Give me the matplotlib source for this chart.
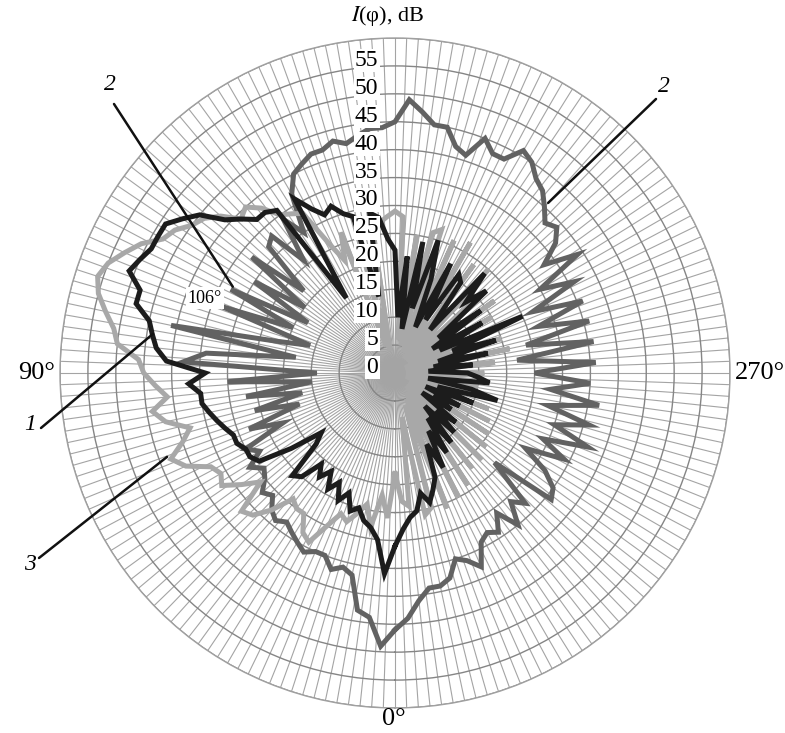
import numpy as np
import matplotlib
matplotlib.use("Agg")
import matplotlib.pyplot as plt
from matplotlib.transforms import offset_copy

plt.rcParams['font.family'] = ['Liberation Serif', 'DejaVu Serif']
plt.rcParams['mathtext.fontset'] = 'stix'

# angles (degrees, 0 at bottom, clockwise)
angles = [0, 3, 6, 9, 12, 15, 18, 21, 24, 27, 30, 33, 36, 39, 42, 45, 48, 51, 54, 57,
          60, 63, 66, 69, 72, 75, 78, 81, 84, 87, 90, 93, 96, 99, 102, 105, 108, 111, 114, 117,
          120, 123, 126, 129, 132, 135, 138, 141, 144, 147, 150, 153, 156, 159, 162, 165, 168, 171, 174, 177,
          180, 183, 186, 189, 192, 195, 198, 201, 204, 207, 210, 213, 216, 219, 222, 225, 228, 231, 234, 237,
          240, 243, 246, 249, 252, 255, 258, 261, 264, 267, 270, 273, 276, 279, 282, 285, 288, 291, 294, 297,
          300, 303, 306, 309, 312, 315, 318, 321, 324, 327, 330, 333, 336, 339, 342, 345, 348, 351, 354, 357]

# curve 1 (black)
curve1 = [31, 36, 30, 28, 27, 25, 26, 23, 25, 22, 24, 21, 23, 21, 25, 26, 19, 17, 23, 29,
          30, 30, 31, 31, 32, 33, 34, 35, 35, 37, 34, 41, 43, 44, 45, 48, 48, 51, 50, 49,
          49, 49, 47, 45, 41, 39, 37, 37, 36, 16, 36, 33, 31, 32, 30, 29, 14, 29, 28, 24,
          22, 10, 21, 8, 24, 12, 25, 18, 9, 22, 11, 21, 20, 10, 24, 18, 22, 10, 19, 8,
          18, 9, 25, 11, 19, 8, 17, 7, 14, 6, 13, 15, 17, 6, 14, 19, 8, 15, 6, 13,
          8, 12, 6, 14, 10, 15, 8, 16, 10, 17, 12, 19, 14, 20, 22, 24, 22, 25, 26, 28]

# curve 2 (dark grey)
curve2 = [46, 49, 44, 43, 37, 36, 37, 35, 35, 36, 35, 34, 33, 34, 33, 31, 32, 30, 29, 31,
          28, 30, 22, 28, 18, 26, 17, 27, 15, 30, 14, 38, 34, 18, 41, 22, 16, 33, 20, 33,
          18, 30, 20, 33, 22, 32, 33, 26, 34, 30, 37, 40, 41, 42, 42, 43, 42, 43, 44, 44,
          45, 49, 47, 45, 45, 42, 41, 45, 43, 43, 46, 45, 43, 42, 40, 38, 39, 37, 33, 39,
          30, 36, 27, 36, 27, 36, 24, 36, 22, 36, 25, 35, 28, 37, 28, 36, 30, 37, 29, 34,
          27, 32, 35, 36, 24, 33, 31, 35, 31, 34, 33, 34, 38, 36, 35, 38, 39, 39, 41, 44]

# curve 3 (light grey)
curve3 = [18, 26, 22, 28, 24, 26, 28, 27, 30, 34, 33, 30, 30, 29, 33, 36, 37, 31, 34, 37,
          36, 37, 41, 43, 40, 38, 42, 44, 41, 43, 45, 46, 50, 51, 53, 55, 56, 55, 53, 51,
          48, 47, 45, 44, 42, 39, 40, 38, 35, 34, 33, 26, 22, 27, 5, 26, 4, 25, 27, 28,
          29, 28, 6, 25, 5, 26, 27, 4, 26, 5, 27, 3, 24, 4, 25, 3, 22, 4, 22, 3,
          20, 2, 22, 3, 20, 2, 21, 3, 18, 2, 16, 10, 2, 15, 3, 16, 2, 18, 3, 19,
          4, 20, 3, 21, 4, 22, 3, 22, 5, 24, 4, 25, 5, 26, 6, 25, 26, 8, 24, 23]

r_ticks = [0, 5, 10, 15, 20, 25, 30, 35, 40, 45, 50, 55]

W, H = 785, 733
fig = plt.figure(figsize=(W / 100, H / 100), dpi=100)
cx, cy, R = 395, 373, 335
ax = fig.add_axes([(cx - R) / W, (H - cy - R) / H, 2 * R / W, 2 * R / H], projection='polar')
ax.set_theta_zero_location('S')
ax.set_theta_direction(-1)
ax.set_ylim(0, 60)
ax.set_thetagrids(np.arange(0, 360, 2), labels=[''] * 180)
ax.set_rgrids(np.arange(5, 61, 5), labels=[''] * 12)
ax.xaxis.grid(True, color='#a4a4a4', lw=0.8)
ax.yaxis.grid(True, color='#858585', lw=1.0)
ax.spines['polar'].set_color('#a0a0a0')
ax.spines['polar'].set_linewidth(1.0)
ax.tick_params(length=0)


def closed(a, v):
    return np.deg2rad(list(a) + [a[0] + 360]), list(v) + [v[0]]


t, v = closed(angles, curve2)
ax.plot(t, v, color='#626262', lw=3.6, zorder=3, solid_joinstyle='miter')
t, v = closed(angles, curve3)
ax.plot(t, v, color='#a8a8a8', lw=3.6, zorder=4, solid_joinstyle='miter')
t, v = closed(angles, curve1)
ax.plot(t, v, color='#1c1c1c', lw=3.6, zorder=5, solid_joinstyle='miter')

# radial labels along the top axis
tr = offset_copy(ax.transData, fig=fig, x=-12, y=4, units='points')
for r in r_ticks:
    ax.text(np.pi, r, str(r), transform=tr, ha='right', va='center', fontsize=17,
            zorder=10, bbox=dict(facecolor='white', edgecolor='none', pad=0.8))

# angle labels
fig.text(37 / W, 1 - 373 / H, '90°', ha='center', va='center', fontsize=19)
fig.text(760 / W, 1 - 373 / H, '270°', ha='center', va='center', fontsize=19)
fig.text(394 / W, 1 - 719 / H, '0°', ha='center', va='center', fontsize=19)
fig.text(388 / W, 1 - 16 / H, r'$I$(φ), dB', ha='center', va='center', fontsize=16)

ax.text(np.deg2rad(111.5), 36.6, '106°', ha='center', va='center', fontsize=13, zorder=11,
        bbox=dict(facecolor='white', edgecolor='none', pad=1.5))

# callouts
callouts = [('2', 118.0, 32.9, (110, 85), (114, 104)),
            ('2', 222.0, 41.0, (664, 86), (656, 99)),
            ('1', 99.2, 43.9, (30, 425), (41, 428)),
            ('3', 69.8, 43.5, (30, 565), (39, 558))]
for lab, th, r, (tx, ty), (lx, ly) in callouts:
    ax.annotate('', xy=(np.deg2rad(th), r), xycoords='data',
                xytext=(lx / W, 1 - ly / H), textcoords='figure fraction',
                arrowprops=dict(arrowstyle='-', lw=1.8, color='#111111', shrinkA=0, shrinkB=0),
                zorder=12, annotation_clip=False)
    fig.text(tx / W, 1 - ty / H, lab, ha='center', va='center', fontsize=17, style='italic')

fig.savefig('out.png', dpi=100)
